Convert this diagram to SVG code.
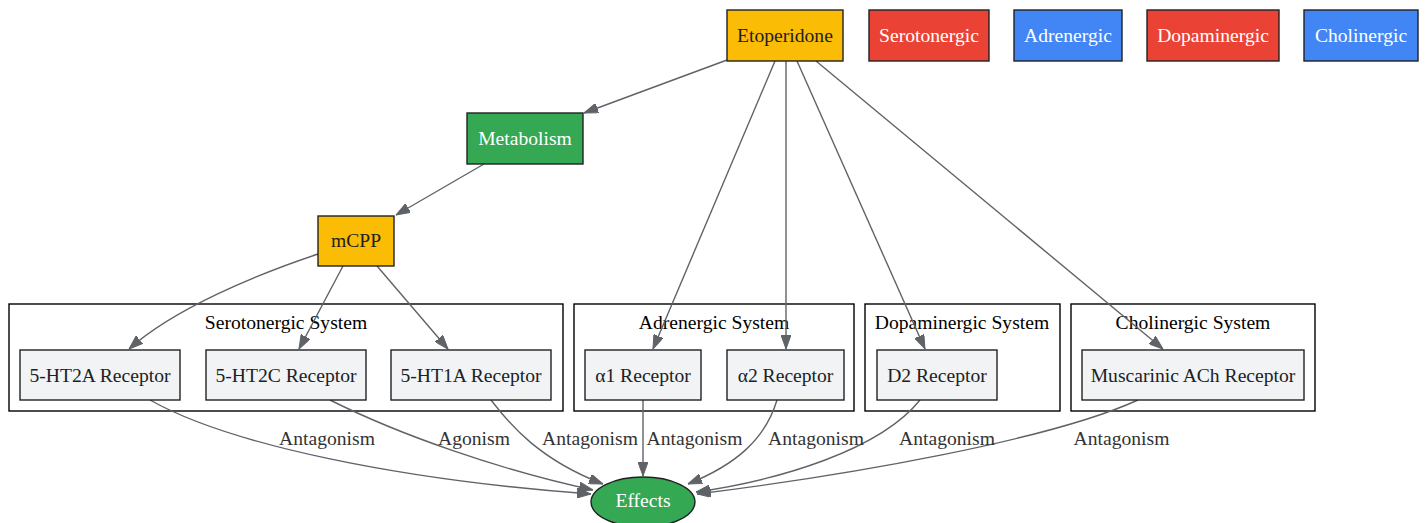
<svg xmlns="http://www.w3.org/2000/svg" width="1426" height="523" viewBox="0 0 1426 523">
<defs>
<style>
text{font-family:"Liberation Serif","Times New Roman",serif;font-size:19.6px;text-anchor:middle}
.n rect,.n ellipse{stroke:#202124;stroke-width:1.4}
.yel{fill:#FBBC05}.red{fill:#EA4335}.blu{fill:#4285F4}.grn{fill:#34A853}.gry{fill:#F1F3F4}
.dk{fill:#202124}.wt{fill:#ffffff}
.cl rect{fill:none;stroke:#000;stroke-width:1.4}
.cl text{fill:#000}
#edges path{fill:none;stroke:#5f6368;stroke-width:1.4;marker-end:url(#ah)}
#edges text{fill:#333333}
</style>
<marker id="ah" viewBox="0 0 14 10" refX="14" refY="5" markerWidth="14" markerHeight="10" markerUnits="userSpaceOnUse" orient="auto">
<path d="M0,0 L14,5 L0,10 z" fill="#5f6368" stroke="#5f6368" stroke-width="1"/>
</marker>
</defs>
<rect width="1426" height="523" fill="#ffffff"/>
<g id="clusters" class="cl">
<g id="cluster_sero"><rect x="9" y="304" width="554" height="107"/><text x="286" y="329">Serotonergic System</text></g>
<g id="cluster_adr"><rect x="574" y="304" width="280" height="107"/><text x="714" y="329">Adrenergic System</text></g>
<g id="cluster_dop"><rect x="865" y="304" width="195" height="107"/><text x="962" y="329">Dopaminergic System</text></g>
<g id="cluster_chol"><rect x="1071" y="304" width="244" height="107"/><text x="1193" y="329">Cholinergic System</text></g>
</g>
<g id="edges">
<path d="M727,60 L584,113"/>
<path d="M484,164 L396,215"/>
<path d="M775,61 L653,349"/>
<path d="M786,61 L786,349"/>
<path d="M797,61 L925,349"/>
<path d="M816,61 L1163,349"/>
<path d="M318,254 C258,274 175,308 129,349"/>
<path d="M343,266 L299,349"/>
<path d="M377,266 L448,349"/>
<path d="M150,400 C230,445 400,480 591,494"/>
<path d="M330,400 C400,435 500,470 593,490"/>
<path d="M491,400 C510,425 540,460 603,484"/>
<path d="M643,400 L643,476"/>
<path d="M777,400 C765,440 735,465 688,484"/>
<path d="M920,400 C880,450 780,480 696,492"/>
<path d="M1138,400 C1050,440 850,475 697,494"/>
<text x="327" y="445">Antagonism</text>
<text x="474" y="445">Agonism</text>
<text x="590" y="445">Antagonism</text>
<text x="694.5" y="445">Antagonism</text>
<text x="816" y="445">Antagonism</text>
<text x="947" y="445">Antagonism</text>
<text x="1121.5" y="445">Antagonism</text>
</g>
<g id="etoperidone" class="n"><rect class="yel" x="727" y="10" width="116" height="51"/><text class="dk" x="785" y="42">Etoperidone</text></g>
<g id="leg_sero" class="n"><rect class="red" x="869" y="10" width="120" height="51"/><text class="wt" x="929" y="42">Serotonergic</text></g>
<g id="leg_adr" class="n"><rect class="blu" x="1014" y="10" width="108" height="51"/><text class="wt" x="1068" y="42">Adrenergic</text></g>
<g id="leg_dop" class="n"><rect class="red" x="1147" y="10" width="132" height="51"/><text class="wt" x="1213" y="42">Dopaminergic</text></g>
<g id="leg_chol" class="n"><rect class="blu" x="1304" y="10" width="114" height="51"/><text class="wt" x="1361" y="42">Cholinergic</text></g>
<g id="metabolism" class="n"><rect class="grn" x="467" y="113" width="116" height="51"/><text class="wt" x="525" y="145">Metabolism</text></g>
<g id="mcpp" class="n"><rect class="yel" x="318" y="216" width="76" height="50"/><text class="dk" x="356" y="247">mCPP</text></g>
<g id="ht2a" class="n"><rect class="gry" x="20" y="350" width="160" height="50"/><text class="dk" x="100" y="382">5-HT2A Receptor</text></g>
<g id="ht2c" class="n"><rect class="gry" x="206" y="350" width="160" height="50"/><text class="dk" x="286" y="382">5-HT2C Receptor</text></g>
<g id="ht1a" class="n"><rect class="gry" x="391" y="350" width="160" height="50"/><text class="dk" x="471" y="382">5-HT1A Receptor</text></g>
<g id="a1" class="n"><rect class="gry" x="585" y="350" width="116" height="50"/><text class="dk" x="643" y="382">α1 Receptor</text></g>
<g id="a2" class="n"><rect class="gry" x="727" y="350" width="117" height="50"/><text class="dk" x="785.5" y="382">α2 Receptor</text></g>
<g id="d2" class="n"><rect class="gry" x="877" y="350" width="120" height="50"/><text class="dk" x="937" y="382">D2 Receptor</text></g>
<g id="mach" class="n"><rect class="gry" x="1082" y="350" width="222" height="50"/><text class="dk" x="1193" y="382">Muscarinic ACh Receptor</text></g>
<g id="effects" class="n"><ellipse class="grn" cx="643" cy="502" rx="52" ry="25"/><text class="wt" x="643" y="507">Effects</text></g>
</svg>
